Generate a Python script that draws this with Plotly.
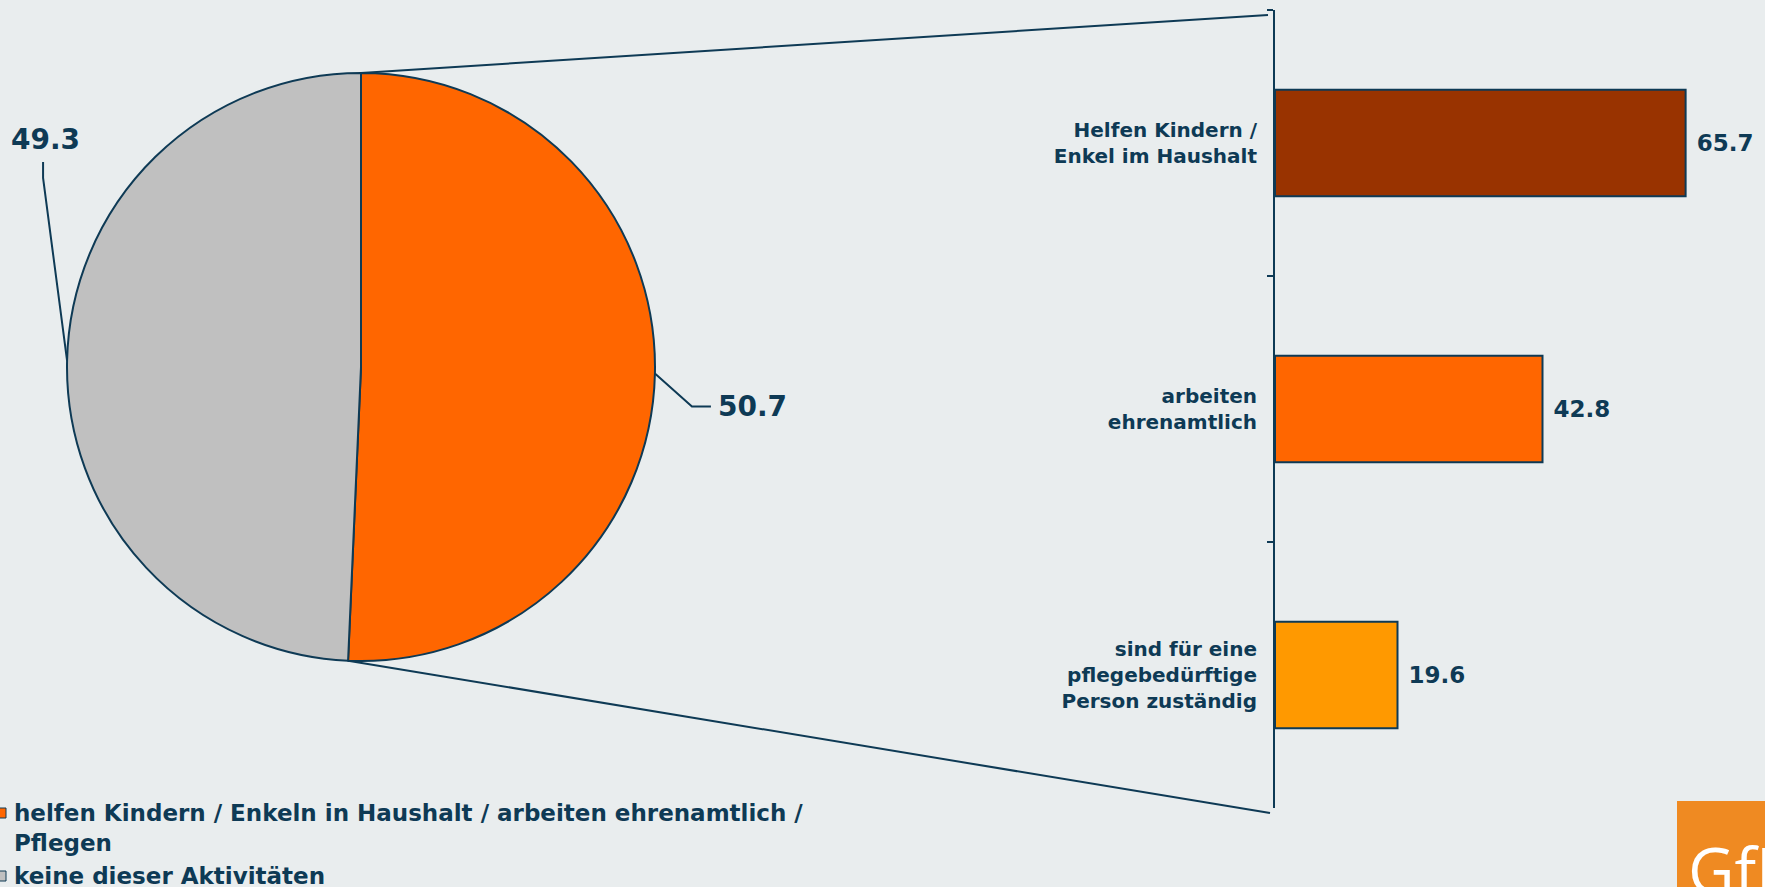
import math
import plotly.graph_objects as go

# data
pie_labels = ["helfen Kindern / Enkeln in Haushalt / arbeiten ehrenamtlich /<br>Pflegen",
              "keine dieser Aktivitäten"]
pie_values = [50.7, 49.3]
pie_colors = ["#FF6600", "#C0C0C0"]

bar_labels = ["Helfen Kindern /<br>Enkel im Haushalt",
              "arbeiten<br>ehrenamtlich",
              "sind für eine<br>pflegebedürftige<br>Person zuständig"]
bar_values = [65.7, 42.8, 19.6]
bar_colors = ["#993300", "#FF6600", "#FF9900"]

W, H = 1765, 887
BG = "#E9EDEE"
NAVY = "#0E3A55"
FONT = "DejaVu Sans"
LW = 2

def X(px):
    return px / W

def Y(py):
    return 1 - py / H

# pie placement in pixels
cx, cy, r = 361, 367, 294
# bar axis placement in pixels
ax_x, ax_top, ax_bot = 1275, 10, 808

fig = go.Figure()
fig.add_trace(go.Pie(
    labels=pie_labels, values=pie_values, sort=False, direction="clockwise",
    rotation=0, textinfo="none", hoverinfo="label+value", showlegend=False,
    marker=dict(colors=pie_colors, line=dict(color=NAVY, width=LW)),
    domain=dict(x=[X(cx - r), X(cx + r)], y=[Y(cy + r), Y(cy - r)]),
))
fig.add_trace(go.Bar(
    y=bar_labels, x=bar_values, orientation="h", showlegend=False,
    marker=dict(color=bar_colors, line=dict(color=NAVY, width=LW)),
    texttemplate="\u00a0%{x:.1f}", textposition="outside", cliponaxis=False,
    textfont=dict(family=FONT, size=23, color=NAVY, weight="bold"),
))

def edge(frac):
    a = math.radians(frac * 360)
    return cx + r * math.sin(a), cy - r * math.cos(a)

total = sum(pie_values)
shapes = []
# connector lines pie -> bar axis
x0, y0 = edge(0)
x1, y1 = edge(pie_values[0] / total)
shapes.append(dict(type="line", xref="paper", yref="paper",
                   x0=X(x0), y0=Y(y0), x1=X(ax_x - 7), y1=Y(ax_top + 5),
                   line=dict(color=NAVY, width=LW)))
shapes.append(dict(type="line", xref="paper", yref="paper",
                   x0=X(x1), y0=Y(y1), x1=X(ax_x - 5), y1=Y(ax_bot + 5),
                   line=dict(color=NAVY, width=LW)))

# slice labels with leader lines
annotations = []
mx, my = edge(pie_values[0] / 2 / total)
path = f"M{X(mx)},{Y(my)} L{X(mx + 37)},{Y(my + 33)} L{X(mx + 56)},{Y(my + 33)}"
shapes.append(dict(type="path", xref="paper", yref="paper", path=path,
                   line=dict(color=NAVY, width=LW)))
annotations.append(dict(x=X(mx + 61), y=Y(my + 33), xref="paper", yref="paper",
                        xanchor="left", yanchor="middle", showarrow=False,
                        text=f"{pie_values[0]:.1f}",
                        font=dict(family=FONT, size=28, color=NAVY, weight="bold")))
gx, gy = edge((pie_values[0] + pie_values[1] / 2) / total)
path = f"M{X(gx)},{Y(gy)} L{X(gx - 24)},{Y(178)} L{X(gx - 24)},{Y(162)}"
shapes.append(dict(type="path", xref="paper", yref="paper", path=path,
                   line=dict(color=NAVY, width=LW)))
annotations.append(dict(x=X(gx - 22), y=Y(158), xref="paper", yref="paper",
                        xanchor="center", yanchor="bottom", showarrow=False,
                        text=f"{pie_values[1]:.1f}",
                        font=dict(family=FONT, size=28, color=NAVY, weight="bold")))

# legend, drawn by hand at the lower left
leg_rows = [(pie_labels[0], pie_colors[0], 813), (pie_labels[1], pie_colors[1], 876)]
for lab, col, yc in leg_rows:
    shapes.append(dict(type="rect", xref="paper", yref="paper",
                       x0=X(-2), x1=X(6), y0=Y(yc - 5), y1=Y(yc + 5),
                       fillcolor=col, line=dict(color=NAVY, width=1)))
    annotations.append(dict(x=X(12), y=Y(yc - 15), xref="paper", yref="paper",
                            xanchor="left", yanchor="top", align="left",
                            showarrow=False, text=lab,
                            font=dict(family=FONT, size=23, color=NAVY, weight="bold")))

# logo corner
shapes.append(dict(type="rect", xref="paper", yref="paper", x0=X(1677), y0=Y(801),
                   x1=1.02, y1=-0.02, fillcolor="#EF8A22", line=dict(width=0)))
annotations.append(dict(x=X(1686), y=Y(824), xref="paper", yref="paper",
                        xanchor="left", yanchor="top", showarrow=False, text="GfK",
                        font=dict(family="Open Sans", size=64, color="white")))

fig.update_layout(
    width=W, height=H, autosize=False,
    margin=dict(l=0, r=0, t=0, b=0, autoexpand=False),
    paper_bgcolor=BG, plot_bgcolor=BG,
    bargap=0.6, showlegend=False,
    shapes=shapes, annotations=annotations,
    font=dict(family=FONT, color=NAVY),
    xaxis=dict(domain=[X(ax_x), 1.0], range=[0, 78.4], visible=False),
    yaxis=dict(domain=[Y(ax_bot), Y(ax_top)], autorange="reversed",
               showline=True, linecolor=NAVY, linewidth=LW,
               ticks="outside", tickson="boundaries", ticklen=6, tickcolor=NAVY,
               tickwidth=LW, showgrid=False, zeroline=False, ticklabelstandoff=12,
               tickfont=dict(family=FONT, size=20, color=NAVY, weight="bold")),
)

fig.write_html("out.html", config={"displayModeBar": False},
               post_script="document.body.style.margin='0';")
